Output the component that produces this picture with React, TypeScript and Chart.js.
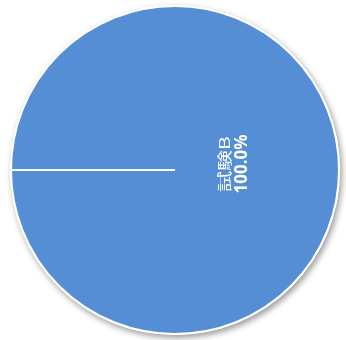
import React, { useEffect, useRef } from "react";
import { Chart, registerables } from "chart.js";

Chart.register(...registerables);

const categories = ["試験B"];
const values = [100];
const percentLabels = ["100.0%"];
const sliceColors = ["#558ED5"];

const shadowPlugin = {
  id: "pieShadow",
  beforeDatasetsDraw(chart: any) {
    const meta = chart.getDatasetMeta(0);
    const arc = meta.data[0];
    if (!arc) return;
    const { x, y, outerRadius } = arc.getProps(["x", "y", "outerRadius"], true);
    const ctx = chart.ctx;
    ctx.save();
    ctx.shadowColor = "rgba(0,0,0,0.4)";
    ctx.shadowBlur = 6;
    ctx.shadowOffsetX = 2;
    ctx.shadowOffsetY = 3;
    ctx.beginPath();
    ctx.arc(x, y, outerRadius + 1, 0, Math.PI * 2);
    ctx.fillStyle = "#ffffff";
    ctx.fill();
    ctx.restore();
  },
};

const labelPlugin = {
  id: "sliceLabels",
  afterDatasetsDraw(chart: any) {
    const ctx = chart.ctx;
    const meta = chart.getDatasetMeta(0);
    meta.data.forEach((arc: any, i: number) => {
      const { x, y, startAngle, endAngle, outerRadius } = arc.getProps(
        ["x", "y", "startAngle", "endAngle", "outerRadius"],
        true
      );
      const mid = (startAngle + endAngle) / 2;
      const r = outerRadius * 0.35;
      const px = x + Math.cos(mid) * r;
      const py = y + Math.sin(mid) * r;
      ctx.save();
      ctx.translate(px, py);
      ctx.rotate(-Math.PI / 2);
      ctx.fillStyle = "#ffffff";
      ctx.textAlign = "center";
      ctx.textBaseline = "middle";
      ctx.save();
      ctx.scale(1, 0.7);
      ctx.font = '21px "Noto Sans CJK JP", "Noto Sans", sans-serif';
      ctx.fillText(categories[i], 6, -11.5);
      ctx.restore();
      ctx.font = 'bold 17px "Noto Sans", "DejaVu Sans", sans-serif';
      ctx.fillText(percentLabels[i], 6, 10);
      ctx.restore();
    });
  },
};

export default function App() {
  const ref = useRef<HTMLCanvasElement>(null);
  useEffect(() => {
    if (!ref.current) return;
    const chart = new Chart(ref.current, {
      type: "pie",
      data: {
        labels: categories,
        datasets: [
          {
            data: values,
            backgroundColor: sliceColors,
            borderColor: "#ffffff",
            borderWidth: 2,
          },
        ],
      },
      options: {
        responsive: false,
        animation: false,
        rotation: 270,
        layout: { padding: { left: 10, top: 5, right: 6, bottom: 5 } },
        plugins: {
          legend: { display: false },
          tooltip: { enabled: false },
        },
      },
      plugins: [shadowPlugin, labelPlugin],
    });
    return () => chart.destroy();
  }, []);
  return (
    <div style={{ position: "absolute", left: 0, top: 0, width: 346, height: 340 }}>
      <canvas ref={ref} width={346} height={340} style={{ display: "block" }} />
    </div>
  );
}
